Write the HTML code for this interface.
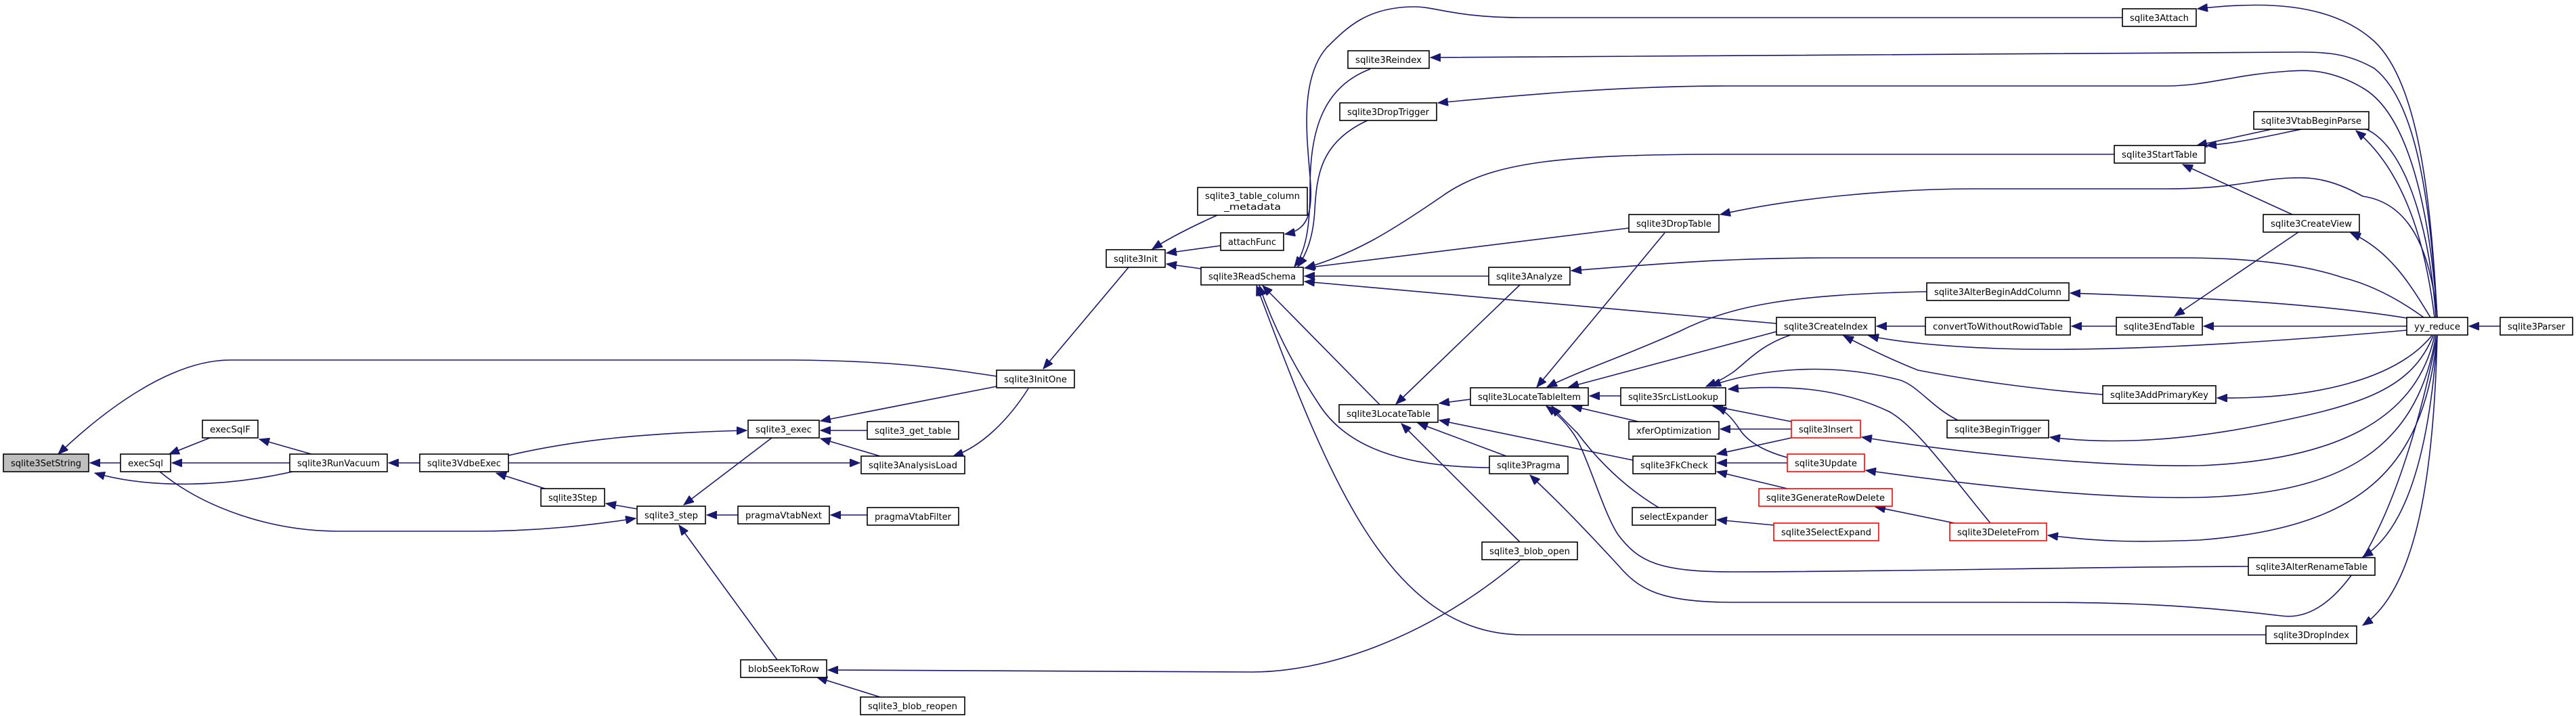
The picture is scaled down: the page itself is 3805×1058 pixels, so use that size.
<!DOCTYPE html>
<html><head><meta charset="utf-8"><style>
html,body{margin:0;padding:0;background:#fff;}
svg{display:block;}
text{font-family:"DejaVu Sans","Liberation Sans",sans-serif;font-size:13px;fill:#000;}
.e{fill:none;stroke:#191970;stroke-width:1.6;}
.n rect{fill:#fff;stroke:#000;stroke-width:1.6;}
.r rect{fill:#fff;stroke:#ff0000;stroke-width:1.6;}
</style></head><body>
<svg width="3805" height="1058" viewBox="0 0 3805 1058" xmlns="http://www.w3.org/2000/svg">
<defs>
<marker id="a" markerUnits="userSpaceOnUse" markerWidth="16" markerHeight="12" refX="15" refY="6" orient="auto">
<path d="M0,0 L15,6 L0,12 z" fill="#191970" stroke="#191970"/>
</marker>
</defs>
<g marker-end="url(#a)">
<!-- left side -->
<path class="e" d="M178,684 L133,684"/>
<path class="e" d="M432,697 C330,720 220,722 140,699"/>
<path class="e" d="M1472,556 C1400,545 1320,533 1170,532 L340,532 C250,532 150,610 86,671"/>
<path class="e" d="M310,647 L250,671"/>
<path class="e" d="M428,684 L254,684"/>
<path class="e" d="M236,697 C300,750 400,785 500,785 L700,785 C800,785 880,775 939,766"/>
<path class="e" d="M460,671 L383,649"/>
<path class="e" d="M620,684 L574,684"/>
<path class="e" d="M805,722 L733,699"/>
<path class="e" d="M751,673 C850,650 950,640 1103,636"/>
<path class="e" d="M751,684 L1270,684"/>
<path class="e" d="M941,752 L895,744"/>
<path class="e" d="M1140,647 L1010,746"/>
<path class="e" d="M1090,761 L1044,761"/>
<path class="e" d="M1148,975 L1003,776"/>
<path class="e" d="M1281,761 L1227,761"/>
<path class="e" d="M1472,571 L1212,622"/>
<path class="e" d="M1281,636 L1212,636"/>
<path class="e" d="M1300,674 L1212,648"/>
<path class="e" d="M1519,574 C1490,620 1450,660 1408,674"/>
<path class="e" d="M1667,395 L1541,545"/>
<path class="e" d="M1798,318 C1760,335 1730,350 1702,368"/>
<path class="e" d="M1803,363 L1723,374"/>
<path class="e" d="M1774,397 L1723,390"/>
<path class="e" d="M2245,828 C2100,950 1950,993 1850,993 L1223,990"/>
<path class="e" d="M1300,1030 L1207,1001"/>
<!-- into ReadSchema -->
<path class="e" d="M3135,26 L2250,26 C2150,26 2120,10 2090,10 C2020,10 1990,40 1960,70 C1920,115 1930,200 1935,260 C1940,320 1930,340 1898,346"/>
<path class="e" d="M2024,102 C1950,130 1935,200 1935,280 C1935,330 1930,370 1912,394"/>
<path class="e" d="M2020,178 C1950,210 1945,260 1942,310 C1940,350 1930,375 1917,394"/>
<path class="e" d="M3123,228 L2550,228 C2300,228 2200,240 2130,290 C2050,345 2000,375 1928,396"/>
<path class="e" d="M2406,337 L1927,396"/>
<path class="e" d="M2199,408 L1927,408"/>
<path class="e" d="M2624,478 L1927,416"/>
<path class="e" d="M2038,598 L1865,422"/>
<path class="e" d="M2200,691 C2070,690 1990,660 1950,600 C1910,540 1880,480 1860,422"/>
<path class="e" d="M3347,938 L2250,938 C2050,938 1960,700 1856,422"/>
<!-- into LocateTable -->
<path class="e" d="M2172,590 L2126,596"/>
<path class="e" d="M2246,420 L2062,597"/>
<path class="e" d="M2225,674 L2094,625"/>
<path class="e" d="M2245,801 L2070,626"/>
<path class="e" d="M2412,680 L2126,621"/>
<!-- into LocateTableItem -->
<path class="e" d="M2459,344 L2270,572"/>
<path class="e" d="M2846,431 C2650,435 2560,450 2480,490 C2390,530 2340,545 2285,572"/>
<path class="e" d="M2624,490 L2317,572"/>
<path class="e" d="M2394,585 L2348,585"/>
<path class="e" d="M2420,623 L2322,600"/>
<path class="e" d="M2450,750 C2400,720 2360,680 2330,640 C2310,620 2300,610 2292,600"/>
<path class="e" d="M3321,837 C3100,837 2800,845 2560,845 C2450,845 2420,830 2390,790 C2370,760 2350,690 2330,650 C2315,625 2300,612 2284,600"/>
<!-- into SrcListLookup -->
<path class="e" d="M2645,495 C2600,510 2580,535 2560,550 C2545,560 2535,565 2520,571"/>
<path class="e" d="M2892,621 C2850,600 2830,565 2800,560 C2700,535 2600,545 2527,570"/>
<path class="e" d="M2940,773 C2880,700 2830,630 2790,608 C2720,575 2650,568 2553,575"/>
<path class="e" d="M2646,623 L2530,600"/>
<path class="e" d="M2640,676 C2600,665 2580,650 2570,635 C2560,620 2550,608 2535,601"/>
<path class="e" d="M2646,634 L2541,634"/>
<path class="e" d="M2646,647 L2536,671"/>
<path class="e" d="M2640,684 L2536,684"/>
<path class="e" d="M2640,722 L2536,697"/>
<path class="e" d="M2620,776 L2536,768"/>
<path class="e" d="M2887,773 L2770,749"/>
<!-- CreateIndex region -->
<path class="e" d="M2844,482 L2772,482"/>
<path class="e" d="M3555,488 C3300,510 3100,520 2950,515 C2870,512 2800,505 2760,496"/>
<path class="e" d="M3106,583 C3000,575 2900,560 2833,547 C2790,530 2750,510 2723,496"/>
<path class="e" d="M3126,482 L3060,482"/>
<path class="e" d="M3555,482 L3255,482"/>
<path class="e" d="M3395,343 L3212,467"/>
<path class="e" d="M3386,317 L3224,243"/>
<path class="e" d="M3360,190 L3245,215"/>
<!-- from yy_reduce -->
<path class="e" d="M3598,469 C3590,350 3560,240 3510,200 C3460,160 3380,205 3259,215"/>
<path class="e" d="M3596,469 C3585,380 3560,260 3480,193"/>
<path class="e" d="M3590,469 C3560,420 3530,370 3472,344"/>
<path class="e" d="M3600,469 C3590,280 3570,120 3507,61 C3440,0 3332,3 3246,13"/>
<path class="e" d="M3600,469 C3590,300 3570,150 3507,101 C3470,80 3440,77 3400,77 L2113,85"/>
<path class="e" d="M3600,469 C3590,320 3560,170 3490,130 C3440,100 3400,104 3382,105 C3300,110 3260,127 3200,127 L2550,127 C2400,127 2250,140 2124,152"/>
<path class="e" d="M3600,469 C3590,370 3560,300 3490,290 C3440,262 3410,262 3382,263 C3330,265 3300,279 3200,279 L2916,279 C2800,279 2650,292 2541,317"/>
<path class="e" d="M3580,469 C3540,440 3500,420 3460,410 C3400,390 3320,381 3224,381 L2700,381 C2550,381 2450,390 2321,400"/>
<path class="e" d="M3555,470 C3400,445 3200,438 3058,433"/>
<path class="e" d="M3592,496 C3540,560 3420,590 3275,588"/>
<path class="e" d="M3594,496 C3560,580 3480,600 3330,630 C3200,655 3100,655 3028,646"/>
<path class="e" d="M3596,496 C3570,620 3450,680 3249,688 C3100,690 2900,670 2750,646"/>
<path class="e" d="M3598,496 C3570,670 3450,730 3249,735 C3100,738 2900,715 2756,695"/>
<path class="e" d="M3600,496 C3580,700 3480,780 3249,798 C3150,802 3100,800 3025,791"/>
<path class="e" d="M3600,496 C3590,650 3560,780 3490,823"/>
<path class="e" d="M3600,496 C3595,700 3570,870 3490,924"/>
<path class="e" d="M3600,496 C3560,700 3480,925 3370,910 C3200,890 3100,890 2950,890 L2560,890 C2450,890 2420,870 2390,835 C2330,770 2300,740 2260,702"/>
<path class="e" d="M3693,482 L3647,482"/>
</g>
<!-- nodes -->
<g class="n">
<rect x="5" y="671" width="126" height="26" style="fill:#bfbfbf"/><text x="16" y="689" textLength="104" lengthAdjust="spacingAndGlyphs">sqlite3SetString</text>
<rect x="178" y="671" width="74" height="26"/><text x="189" y="689" textLength="52" lengthAdjust="spacingAndGlyphs">execSql</text>
<rect x="299" y="621" width="82" height="26"/><text x="310" y="639" textLength="60" lengthAdjust="spacingAndGlyphs">execSqlF</text>
<rect x="428" y="671" width="144" height="26"/><text x="439" y="689" textLength="122" lengthAdjust="spacingAndGlyphs">sqlite3RunVacuum</text>
<rect x="620" y="671" width="131" height="26"/><text x="631" y="689" textLength="109" lengthAdjust="spacingAndGlyphs">sqlite3VdbeExec</text>
<rect x="799" y="722" width="94" height="26"/><text x="810" y="740" textLength="72" lengthAdjust="spacingAndGlyphs">sqlite3Step</text>
<rect x="941" y="748" width="101" height="26"/><text x="952" y="766" textLength="79" lengthAdjust="spacingAndGlyphs">sqlite3_step</text>
<rect x="1090" y="748" width="135" height="26"/><text x="1101" y="766" textLength="113" lengthAdjust="spacingAndGlyphs">pragmaVtabNext</text>
<rect x="1105" y="621" width="105" height="26"/><text x="1116" y="639" textLength="83" lengthAdjust="spacingAndGlyphs">sqlite3_exec</text>
<rect x="1094" y="975" width="127" height="26"/><text x="1105" y="993" textLength="105" lengthAdjust="spacingAndGlyphs">blobSeekToRow</text>
<rect x="1281" y="623" width="135" height="26"/><text x="1292" y="641" textLength="113" lengthAdjust="spacingAndGlyphs">sqlite3_get_table</text>
<rect x="1272" y="674" width="153" height="26"/><text x="1283" y="692" textLength="131" lengthAdjust="spacingAndGlyphs">sqlite3AnalysisLoad</text>
<rect x="1281" y="750" width="135" height="26"/><text x="1292" y="768" textLength="113" lengthAdjust="spacingAndGlyphs">pragmaVtabFilter</text>
<rect x="1271" y="1030" width="154" height="26"/><text x="1282" y="1048" textLength="132" lengthAdjust="spacingAndGlyphs">sqlite3_blob_reopen</text>
<rect x="1472" y="547" width="115" height="26"/><text x="1483" y="565" textLength="93" lengthAdjust="spacingAndGlyphs">sqlite3InitOne</text>
<rect x="1634" y="369" width="87" height="26"/><text x="1645" y="387" textLength="65" lengthAdjust="spacingAndGlyphs">sqlite3Init</text>
<rect x="1769" y="277" width="162" height="41"/><text x="1780" y="294" textLength="140" lengthAdjust="spacingAndGlyphs">sqlite3_table_column</text><text x="1808" y="310" textLength="84" lengthAdjust="spacingAndGlyphs">_metadata</text>
<rect x="1803" y="344" width="93" height="26"/><text x="1814" y="362" textLength="71" lengthAdjust="spacingAndGlyphs">attachFunc</text>
<rect x="1774" y="395" width="151" height="26"/><text x="1785" y="413" textLength="129" lengthAdjust="spacingAndGlyphs">sqlite3ReadSchema</text>
<rect x="1991" y="75" width="120" height="26"/><text x="2002" y="93" textLength="98" lengthAdjust="spacingAndGlyphs">sqlite3Reindex</text>
<rect x="1979" y="152" width="143" height="26"/><text x="1990" y="170" textLength="121" lengthAdjust="spacingAndGlyphs">sqlite3DropTrigger</text>
<rect x="1978" y="598" width="146" height="26"/><text x="1989" y="616" textLength="124" lengthAdjust="spacingAndGlyphs">sqlite3LocateTable</text>
<rect x="2172" y="573" width="174" height="26"/><text x="2183" y="591" textLength="152" lengthAdjust="spacingAndGlyphs">sqlite3LocateTableItem</text>
<rect x="2199" y="395" width="120" height="26"/><text x="2210" y="413" textLength="98" lengthAdjust="spacingAndGlyphs">sqlite3Analyze</text>
<rect x="2406" y="317" width="133" height="26"/><text x="2417" y="335" textLength="111" lengthAdjust="spacingAndGlyphs">sqlite3DropTable</text>
<rect x="2394" y="573" width="155" height="26"/><text x="2405" y="591" textLength="133" lengthAdjust="spacingAndGlyphs">sqlite3SrcListLookup</text>
<rect x="2406" y="623" width="133" height="26"/><text x="2417" y="641" textLength="111" lengthAdjust="spacingAndGlyphs">xferOptimization</text>
<rect x="2412" y="674" width="122" height="26"/><text x="2423" y="692" textLength="100" lengthAdjust="spacingAndGlyphs">sqlite3FkCheck</text>
<rect x="2411" y="750" width="123" height="26"/><text x="2422" y="768" textLength="101" lengthAdjust="spacingAndGlyphs">selectExpander</text>
<rect x="2200" y="674" width="116" height="26"/><text x="2211" y="692" textLength="94" lengthAdjust="spacingAndGlyphs">sqlite3Pragma</text>
<rect x="2189" y="801" width="141" height="26"/><text x="2200" y="819" textLength="119" lengthAdjust="spacingAndGlyphs">sqlite3_blob_open</text>
<rect x="3135" y="13" width="109" height="26"/><text x="3146" y="31" textLength="87" lengthAdjust="spacingAndGlyphs">sqlite3Attach</text>
<rect x="3329" y="165" width="170" height="26"/><text x="3340" y="183" textLength="148" lengthAdjust="spacingAndGlyphs">sqlite3VtabBeginParse</text>
<rect x="3123" y="215" width="134" height="26"/><text x="3134" y="233" textLength="112" lengthAdjust="spacingAndGlyphs">sqlite3StartTable</text>
<rect x="3343" y="317" width="142" height="26"/><text x="3354" y="335" textLength="120" lengthAdjust="spacingAndGlyphs">sqlite3CreateView</text>
<rect x="2846" y="418" width="210" height="26"/><text x="2857" y="436" textLength="188" lengthAdjust="spacingAndGlyphs">sqlite3AlterBeginAddColumn</text>
<rect x="2624" y="469" width="146" height="26"/><text x="2635" y="487" textLength="124" lengthAdjust="spacingAndGlyphs">sqlite3CreateIndex</text>
<rect x="2844" y="469" width="214" height="26"/><text x="2855" y="487" textLength="192" lengthAdjust="spacingAndGlyphs">convertToWithoutRowidTable</text>
<rect x="3126" y="469" width="127" height="26"/><text x="3137" y="487" textLength="105" lengthAdjust="spacingAndGlyphs">sqlite3EndTable</text>
<rect x="3555" y="469" width="90" height="26"/><text x="3566" y="487" textLength="68" lengthAdjust="spacingAndGlyphs">yy_reduce</text>
<rect x="3693" y="469" width="107" height="26"/><text x="3704" y="487" textLength="85" lengthAdjust="spacingAndGlyphs">sqlite3Parser</text>
<rect x="3106" y="570" width="167" height="26"/><text x="3117" y="588" textLength="145" lengthAdjust="spacingAndGlyphs">sqlite3AddPrimaryKey</text>
<rect x="2876" y="621" width="150" height="26"/><text x="2887" y="639" textLength="128" lengthAdjust="spacingAndGlyphs">sqlite3BeginTrigger</text>
<rect x="3321" y="824" width="187" height="26"/><text x="3332" y="842" textLength="165" lengthAdjust="spacingAndGlyphs">sqlite3AlterRenameTable</text>
<rect x="3347" y="925" width="134" height="26"/><text x="3358" y="943" textLength="112" lengthAdjust="spacingAndGlyphs">sqlite3DropIndex</text>
</g>
<g class="r">
<rect x="2646" y="621" width="102" height="26"/><text x="2657" y="639" textLength="80" lengthAdjust="spacingAndGlyphs">sqlite3Insert</text>
<rect x="2640" y="671" width="114" height="26"/><text x="2651" y="689" textLength="92" lengthAdjust="spacingAndGlyphs">sqlite3Update</text>
<rect x="2598" y="722" width="197" height="26"/><text x="2609" y="740" textLength="175" lengthAdjust="spacingAndGlyphs">sqlite3GenerateRowDelete</text>
<rect x="2620" y="773" width="155" height="26"/><text x="2631" y="791" textLength="133" lengthAdjust="spacingAndGlyphs">sqlite3SelectExpand</text>
<rect x="2880" y="773" width="143" height="26"/><text x="2891" y="791" textLength="121" lengthAdjust="spacingAndGlyphs">sqlite3DeleteFrom</text>
</g>
</svg>
</body></html>
